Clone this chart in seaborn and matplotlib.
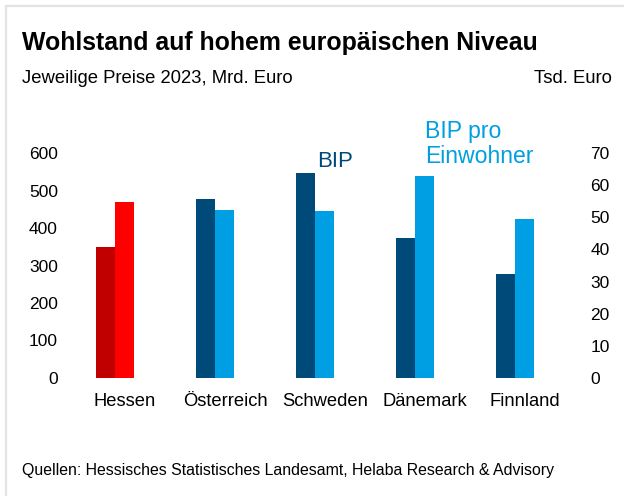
import numpy as np
import pandas as pd
import matplotlib.pyplot as plt
import seaborn as sns
from matplotlib.lines import Line2D


countries = ["Hessen", "Österreich", "Schweden", "Dänemark", "Finnland"]
bip = [350, 477, 548, 374, 277]                 # Mrd. Euro, linke Achse
bip_pro_kopf = [54.7, 52.2, 51.9, 63.0, 49.6]   # Tsd. Euro, rechte Achse
series = ["BIP", "BIP pro Einwohner"]

dark_blue = "#004A7A"
light_blue = "#009FE3"
dark_red = "#C00000"
red = "#FF0000"

sns.set_theme(style="white")
plt.rcParams["font.family"] = ["Liberation Sans", "DejaVu Sans"]
plt.rcParams["text.color"] = "black"

df_bip = pd.DataFrame({"land": countries, "reihe": series[0], "wert": bip})
df_kopf = pd.DataFrame({"land": countries, "reihe": series[1], "wert": bip_pro_kopf})

W, H = 624, 496
fig = plt.figure(figsize=(W / 100, H / 100), dpi=100)
ax = fig.add_axes([62 / W, 1 - 377.7 / H, 524 / W, 224.4 / H])
ax2 = ax.twinx()

sns.barplot(data=df_bip, x="land", y="wert", hue="reihe", hue_order=series,
            palette=[dark_blue, light_blue], width=0.38, saturation=1,
            dodge=True, legend=False, linewidth=0, ax=ax)
sns.barplot(data=df_kopf, x="land", y="wert", hue="reihe", hue_order=series,
            palette=[dark_blue, light_blue], width=0.38, saturation=1,
            dodge=True, legend=False, linewidth=0, ax=ax2)

# Hessen in Rot
ax.patches[0].set_facecolor(dark_red)
ax2.patches[0].set_facecolor(red)

for a in (ax, ax2):
    for s in a.spines.values():
        s.set_visible(False)
    a.set_xlabel("")
    a.set_ylabel("")
    a.grid(False)

ax.set_xlim(-0.53, 4.71)
ax.set_ylim(0, 600)
ax.set_yticks(range(0, 601, 100))
ax2.set_ylim(0, 70)
ax2.set_yticks(range(0, 71, 10))
ax.set_xticks(np.arange(len(countries)) + 0.1, countries)

ax.tick_params(axis="y", length=0, pad=3, labelsize=12.5, labelcolor="black")
ax2.tick_params(axis="y", length=0, pad=3, labelsize=12.5, labelcolor="black")
ax.tick_params(axis="x", length=0, pad=11, labelsize=13.2, labelcolor="black")

# Reihenbeschriftung
ax.text(2.02, 563, "BIP", color=dark_blue, fontsize=16, ha="left", va="baseline")
ax.text(3.1, 574, "BIP pro\nEinwohner", color=light_blue, fontsize=16.6,
        ha="left", va="baseline", linespacing=1.1, clip_on=False)

fig.text(22 / W, 1 - 50 / H, "Wohlstand auf hohem europäischen Niveau",
         fontsize=17.9, fontweight="bold", ha="left", va="baseline")
fig.text(22 / W, 1 - 83 / H, "Jeweilige Preise 2023, Mrd. Euro",
         fontsize=13.3, ha="left", va="baseline")
fig.text(612 / W, 1 - 83 / H, "Tsd. Euro", fontsize=13.3, ha="right", va="baseline")
fig.text(22 / W, 1 - 475 / H,
         "Quellen: Hessisches Statistisches Landesamt, Helaba Research & Advisory",
         fontsize=11.4, ha="left", va="baseline")

# heller Rahmen oben und links
frame = dict(color="#E3E3E3", linewidth=1.6, transform=fig.transFigure)
fig.add_artist(Line2D([6 / W, 1], [1 - 6 / H, 1 - 6 / H], **frame))
fig.add_artist(Line2D([6 / W, 6 / W], [0, 1 - 6 / H], **frame))

fig.savefig("out.png", dpi=100)
